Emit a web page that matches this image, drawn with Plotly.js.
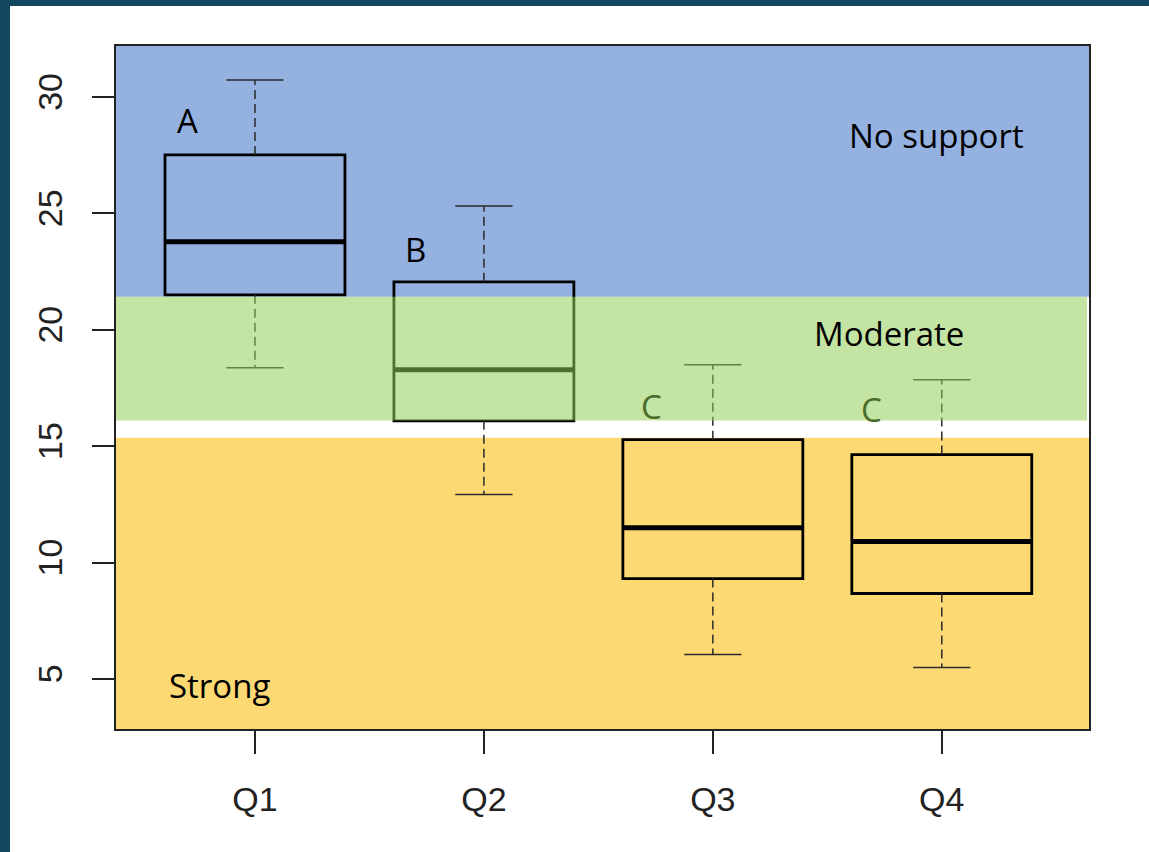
<!DOCTYPE html>
<html>
<head>
<meta charset="utf-8">
<script src="https://cdn.plot.ly/plotly-3.0.1.min.js"></script>
<style>
  html, body { margin: 0; padding: 0; background: #13475f; width: 1149px; height: 852px; overflow: hidden; }
  #chart { position: absolute; left: 10px; top: 6px; width: 1139px; height: 846px; background: #ffffff; }
</style>
</head>
<body>
<div id="chart"></div>
<script>
// ---- data ----
const categories = ["Q1", "Q2", "Q3", "Q4"];
const lowerWhisker = [18.37, 12.92, 6.05, 5.49];
const q1Values     = [21.50, 16.09, 9.31, 8.67];
const medians      = [23.78, 18.28, 11.50, 10.90];
const q3Values     = [27.51, 22.06, 15.28, 14.64];
const upperWhisker = [30.73, 25.32, 18.50, 17.85];
const groupLetters = ["A", "B", "C", "C"];
const yTicks = [5, 10, 15, 20, 25, 30];
const zoneNames = ["No support", "Moderate", "Strong"];
const zoneBounds = { strongTop: 15.36, moderateBottom: 16.10, moderateTop: 21.42 };

// ---- geometry / style ----
const pos = categories.map((_, i) => i);
const boxW = 0.786, capHalf = 0.125;
const yRange = [2.85, 32.19];
const xRange = [-0.607, 3.643];

const wx = [], wy = [], cx = [], cy = [], mx = [], my = [];
pos.forEach((p, i) => {
  wx.push(p, p, null, p, p, null);
  wy.push(q3Values[i], upperWhisker[i], null, q1Values[i], lowerWhisker[i], null);
  cx.push(p - capHalf, p + capHalf, null, p - capHalf, p + capHalf, null);
  cy.push(upperWhisker[i], upperWhisker[i], null, lowerWhisker[i], lowerWhisker[i], null);
  mx.push(p - boxW / 2, p + boxW / 2, null);
  my.push(medians[i], medians[i], null);
});

const traces = [
  { type: "scatter", mode: "lines", x: wx, y: wy, hoverinfo: "skip", showlegend: false,
    line: { color: "#2a2a2a", width: 1.5, dash: "9px,5px" } },
  { type: "scatter", mode: "lines", x: cx, y: cy, hoverinfo: "skip", showlegend: false,
    line: { color: "#2a2a2a", width: 1.5 } },
  { type: "box", x: pos, q1: q1Values, median: medians, q3: q3Values,
    lowerfence: q1Values, upperfence: q3Values, width: boxW, whiskerwidth: 0,
    fillcolor: "rgba(0,0,0,0)", line: { color: "#000000", width: 2.8 },
    hoverinfo: "skip", showlegend: false, boxpoints: false },
  { type: "scatter", mode: "lines", x: mx, y: my, hoverinfo: "skip", showlegend: false,
    line: { color: "#000000", width: 5 } }
];

const letterPos = [[-0.293, 28.97], [0.703, 23.43], [1.734, 16.70], [2.695, 16.57]];
const letterColors = ["#000000", "#000000", "#4b6b2b", "#4b6b2b"];
const annFont = { family: "Open Sans, sans-serif", size: 33, color: "#000000" };
const annotations = groupLetters.map((t, i) => ({
  x: letterPos[i][0], y: letterPos[i][1], xref: "x", yref: "y", text: t, showarrow: false,
  font: Object.assign({}, annFont, { color: letterColors[i] })
}));
annotations.push(
  { x: 2.975, y: 28.33, xref: "x", yref: "y", text: zoneNames[0], showarrow: false, font: annFont },
  { x: 2.770, y: 19.83, xref: "x", yref: "y", text: zoneNames[1], showarrow: false, font: annFont },
  { x: -0.153, y: 4.72, xref: "x", yref: "y", text: zoneNames[2], showarrow: false, font: annFont }
);

const shapes = [
  { type: "rect", xref: "paper", yref: "y", x0: 0, x1: 1, y0: zoneBounds.moderateTop, y1: yRange[1],
    fillcolor: "#95b1df", line: { width: 0 }, layer: "below" },
  { type: "rect", xref: "paper", yref: "y", x0: 0, x1: 1, y0: yRange[0], y1: zoneBounds.strongTop,
    fillcolor: "#fdd974", line: { width: 0 }, layer: "below" },
  { type: "rect", xref: "paper", yref: "y", x0: 0, x1: 0.998, y0: zoneBounds.moderateBottom, y1: zoneBounds.moderateTop,
    fillcolor: "rgb(146,206,86)", opacity: 0.54, line: { width: 0 }, layer: "above" }
];

const tickFont = { family: "Liberation Sans, Arial, sans-serif", size: 34, color: "#222222" };
const layout = {
  width: 1139, height: 846,
  margin: { l: 106, r: 60, t: 40, b: 123 },
  paper_bgcolor: "#ffffff", plot_bgcolor: "#ffffff",
  showlegend: false,
  xaxis: {
    type: "linear", range: xRange, tickvals: pos, ticktext: categories,
    showgrid: false, zeroline: false, showline: true, mirror: true,
    linecolor: "#222222", linewidth: 2,
    ticks: "outside", ticklen: 23, tickwidth: 2, tickcolor: "#222222",
    tickfont: tickFont, ticklabelstandoff: 16
  },
  yaxis: {
    range: yRange, tickvals: yTicks, ticktext: yTicks.map(String),
    showgrid: false, zeroline: false, showline: true, mirror: true,
    linecolor: "#222222", linewidth: 2,
    ticks: "outside", ticklen: 22, tickwidth: 2, tickcolor: "#222222",
    tickfont: tickFont, tickangle: -90, ticklabelstandoff: 16
  },
  shapes: shapes,
  annotations: annotations
};

Plotly.newPlot("chart", traces, layout, { displayModeBar: false, staticPlot: true });
</script>
</body>
</html>
